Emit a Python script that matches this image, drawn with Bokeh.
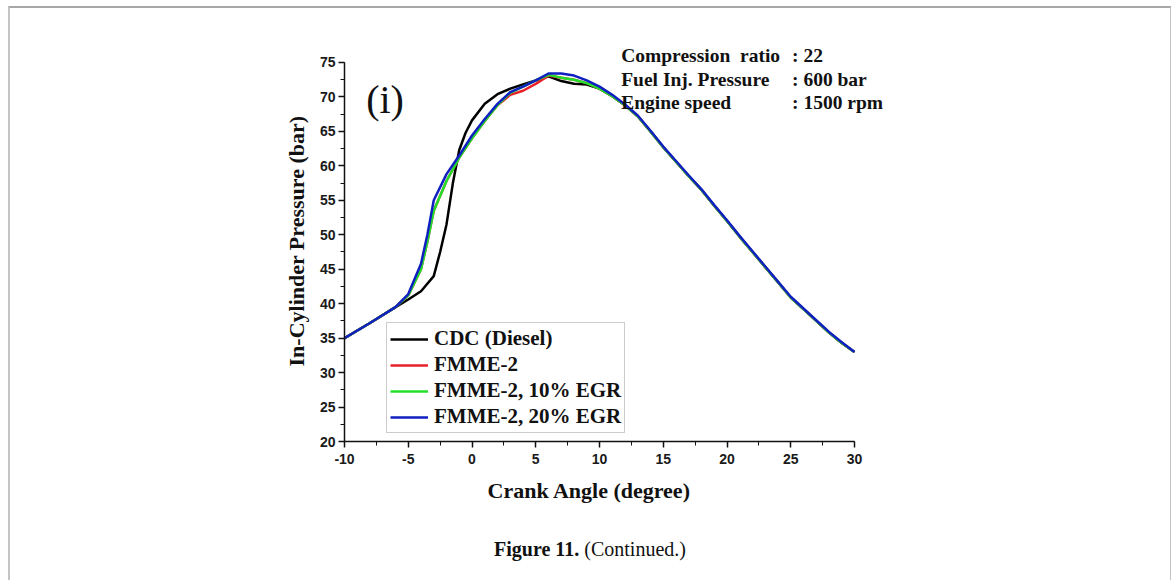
from bokeh.plotting import figure
from bokeh.models import Range1d, Label, Legend, LegendItem, Title, Div, PrintfTickFormatter
from bokeh.layouts import column
from bokeh.embed import file_html
from bokeh.resources import INLINE

# ---- data ----
cdc_x = [-10, -8, -6, -5, -4, -3, -2.5, -2, -1.5, -1, -0.5, 0, 1, 2, 3, 4, 5, 6, 7, 8, 9, 10,
         11, 12, 13, 14, 15, 16, 17, 18, 19, 20, 21, 22, 23, 24, 25, 26, 27, 28, 29, 30]
cdc_y = [35.0, 37.2, 39.5, 40.6, 41.8, 44.0, 47.5, 51.5, 57.5, 62.3, 64.8, 66.6, 69.0, 70.4, 71.2, 71.8, 72.4, 73.0, 72.3, 71.9, 71.8, 71.2,
         70.1, 68.8, 67.2, 65.0, 62.7, 60.6, 58.5, 56.5, 54.2, 52.0, 49.7, 47.5, 45.3, 43.1, 40.9, 39.2, 37.5, 35.8, 34.3, 33.0]

fmme_x = [-10, -8, -6, -5, -4, -3.5, -3, -2, -1, 0, 1, 2, 3, 4, 5, 6, 7, 8, 9, 10,
          11, 12, 13, 14, 15, 16, 17, 18, 19, 20, 21, 22, 23, 24, 25, 26, 27, 28, 29, 30]
fmme_y = [35.0, 37.2, 39.5, 41.2, 45.0, 49.0, 53.5, 57.8, 61.2, 64.0, 66.5, 68.8, 70.3, 70.9, 71.9, 73.1, 72.8, 72.5, 72.0, 71.2,
          70.1, 68.8, 67.2, 65.0, 62.7, 60.6, 58.5, 56.5, 54.2, 52.0, 49.7, 47.5, 45.3, 43.1, 40.9, 39.2, 37.5, 35.8, 34.3, 33.0]

egr10_x = fmme_x
egr10_y = [35.0, 37.2, 39.5, 41.2, 45.0, 49.0, 53.5, 57.8, 61.2, 64.0, 66.5, 68.8, 70.6, 71.5, 72.4, 73.2, 72.8, 72.5, 72.0, 71.2,
           70.1, 68.8, 67.2, 65.0, 62.7, 60.6, 58.5, 56.5, 54.2, 52.0, 49.7, 47.5, 45.3, 43.1, 40.9, 39.2, 37.5, 35.8, 34.3, 33.0]

egr20_x = fmme_x
egr20_y = [35.0, 37.2, 39.5, 41.4, 45.8, 50.0, 55.0, 58.8, 61.5, 64.4, 66.8, 69.0, 70.7, 71.5, 72.4, 73.4, 73.4, 73.1, 72.4, 71.5,
           70.3, 68.9, 67.3, 65.1, 62.8, 60.7, 58.6, 56.6, 54.3, 52.1, 49.8, 47.6, 45.4, 43.2, 41.0, 39.3, 37.6, 35.9, 34.4, 33.0]

series_names = ["CDC (Diesel)", "FMME-2", "FMME-2, 10% EGR", "FMME-2, 20% EGR"]
series_colors = ["#000000", "#e8202a", "#22e02a", "#1020c0"]

info_keys = ["Compression\u00a0 ratio", "Fuel Inj. Pressure", "Engine speed"]
info_vals = [": 22", ": 600 bar", ": 1500 rpm"]

SERIF = "Liberation Serif"
SANS = "Liberation Sans"

p = figure(width=1150, height=520, output_backend="svg", toolbar_location=None,
           x_range=Range1d(-10, 34), y_range=Range1d(20, 78.19),
           min_border_left=334, min_border_right=255, min_border_top=32, min_border_bottom=87)
p.outline_line_color = None
p.xgrid.visible = False
p.ygrid.visible = False
p.background_fill_color = "white"
p.border_fill_color = "white"

renderers = []
for xs, ys, c in zip([cdc_x, fmme_x, egr10_x, egr20_x], [cdc_y, fmme_y, egr10_y, egr20_y], series_colors):
    renderers.append(p.line(xs, ys, line_color=c, line_width=2.5))

for ax in (p.xaxis[0], p.yaxis[0]):
    ax.axis_line_color = "#111111"
    ax.axis_line_width = 1.5
    ax.major_tick_line_color = "#111111"
    ax.minor_tick_line_color = "#111111"
    ax.major_tick_line_width = 1.5
    ax.major_tick_out = 6
    ax.major_tick_in = 0
    ax.minor_tick_out = 4
    ax.minor_tick_in = 0
    ax.major_label_text_font = SANS
    ax.major_label_text_font_style = "bold"
    ax.major_label_text_font_size = "14px"
    ax.major_label_text_color = "#1a1a1a"
    ax.axis_label_text_font = SERIF
    ax.axis_label_text_font_style = "bold"
    ax.axis_label_text_font_size = "22px"
    ax.axis_label_text_color = "#111111"
    ax.ticker.num_minor_ticks = 2
    ax.formatter = PrintfTickFormatter(format="%d")

p.xaxis.bounds = (-10, 30)
p.yaxis.bounds = (20, 75)
p.xaxis.ticker.desired_num_ticks = 9
p.yaxis.ticker.desired_num_ticks = 12
p.yaxis.axis_label = "In-Cylinder Pressure (bar)"
p.xaxis.major_label_standoff = 6
p.yaxis.major_label_standoff = 3
p.yaxis.axis_label_standoff = 8

# x-axis title placed under the axis, slightly left of centre as in the source
p.add_layout(Title(text="Crank Angle (degree)", align="left", offset=143,
                   text_font=SERIF, text_font_style="bold", text_font_size="22px",
                   text_color="#111111", standoff=18), "below")

legend = Legend(items=[LegendItem(label=n, renderers=[r]) for n, r in zip(series_names, renderers)],
                location=(42, 8))
legend.label_text_font = SERIF
legend.label_text_font_style = "bold"
legend.label_text_font_size = "21px"
legend.label_text_color = "#111111"
legend.label_height = 20
legend.glyph_height = 20
legend.glyph_width = 38
legend.label_standoff = 6
legend.spacing = 1
legend.padding = 3
legend.margin = 0
legend.border_line_color = "#999999"
legend.border_line_width = 1
legend.background_fill_alpha = 1.0
p.add_layout(legend, "center")

# panel tag
p.add_layout(Label(x=-8.3, y=69.6, text="(i)", text_font=SERIF, text_font_size="40px",
                   text_color="#111111", text_baseline="alphabetic"))

# operating-condition notes
note_ys = [76.0, 72.5, 69.2]
for k, v, yy in zip(info_keys, info_vals, note_ys):
    p.add_layout(Label(x=11.7, y=yy, text=k, text_font=SERIF, text_font_style="bold",
                       text_font_size="19.5px", text_color="#111111", text_baseline="alphabetic"))
    p.add_layout(Label(x=25.1, y=yy, text=v, text_font=SERIF, text_font_style="bold",
                       text_font_size="19.5px", text_color="#111111", text_baseline="alphabetic"))

caption = Div(text="<b>Figure 11.</b> (Continued.)", width=1150, height=44,
              styles={"font-family": "Liberation Serif", "font-size": "20px",
                      "text-align": "center", "padding-top": "2px", "color": "#111111"})

page = column(p, caption, spacing=0,
              styles={"margin-left": "8px", "margin-top": "6px",
                      "border-left": "2px solid #c4c4c4", "border-top": "2px solid #a8a8a8",
                      "border-right": "2px solid #c4c4c4"})

open("out.html", "w").write(file_html(page, INLINE))
